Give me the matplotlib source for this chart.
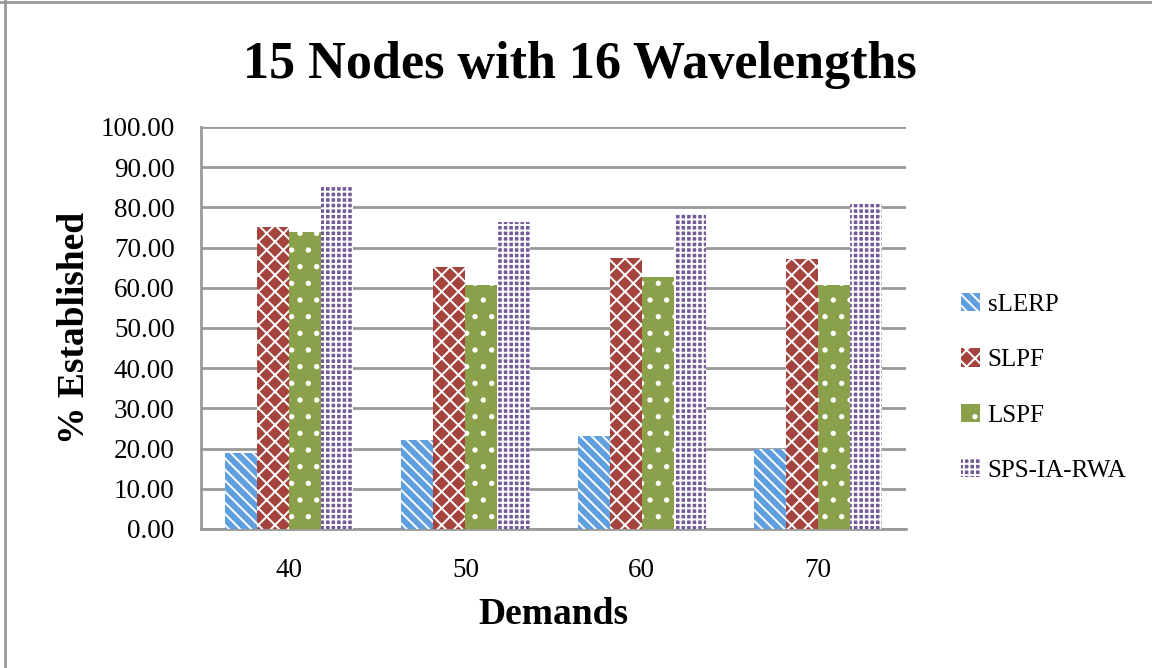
import numpy as np
import matplotlib
matplotlib.use("Agg")
import matplotlib.pyplot as plt
from matplotlib.lines import Line2D

demands = ["40", "50", "60", "70"]
series = ["sLERP", "SLPF", "LSPF", "SPS-IA-RWA"]
slerp = [19.0, 22.2, 23.2, 20.0]
slpf = [75.1, 65.1, 67.3, 67.1]
lspf = [73.8, 60.8, 62.8, 60.6]
sps = [85.0, 76.4, 78.3, 80.8]

colors = ["#5F9FDF", "#A5443F", "#8AA04A", "#755A98"]
hatches = ["\\\\\\", "xx", ".", "+++"]

plt.rcParams["font.family"] = ["Liberation Serif", "DejaVu Serif"]
plt.rcParams["hatch.linewidth"] = 1.4

fig = plt.figure(figsize=(11.52, 6.68), dpi=100)
ax = fig.add_axes([0.1745, 0.2081, 0.612, 0.6018])

x = np.arange(len(demands))
w = 0.182
values = [slerp, slpf, lspf, sps]
for i, (name, vals) in enumerate(zip(series, values)):
    ax.bar(x + (i - 1.5) * w, vals, w, label=name, color=colors[i],
           hatch=hatches[i], edgecolor="white", linewidth=0, zorder=3)

ax.set_xlim(-0.5, 3.5)
ax.set_ylim(0, 100)
ax.set_yticks(np.arange(0, 101, 10))
ax.set_yticklabels([f"{v:.2f}" for v in range(0, 101, 10)], fontsize=19.5)
ax.set_xticks(x)
ax.set_xticklabels(demands, fontsize=19.5)
ax.tick_params(axis="y", length=0, pad=19)
ax.tick_params(axis="x", length=0, pad=21)
ax.yaxis.grid(True, color="#999999", linewidth=2, zorder=0)
ax.set_axisbelow(True)
for s in ["top", "right"]:
    ax.spines[s].set_visible(False)
for s in ["left", "bottom"]:
    ax.spines[s].set_color("#999999")
    ax.spines[s].set_linewidth(2)

ax.set_xlabel("Demands", fontsize=27, fontweight="bold", labelpad=10)
ax.set_ylabel("% Established", fontsize=27, fontweight="bold", labelpad=6)
fig.text(0.503, 0.903, "15 Nodes with 16 Wavelengths", fontsize=37.5,
         fontweight="bold", ha="center", va="center")

fig.legend(loc="center left", bbox_to_anchor=(0.815, 0.42), frameon=False,
           fontsize=18, handlelength=0.75, handleheight=0.75,
           handletextpad=0.3, labelspacing=1.3)

# outer chart border
fig.add_artist(Line2D([0.0045, 0.0045], [0, 1], color="#999999", lw=2))
fig.add_artist(Line2D([0, 1], [0.997, 0.997], color="#999999", lw=2))

fig.savefig("out.png", dpi=100)
